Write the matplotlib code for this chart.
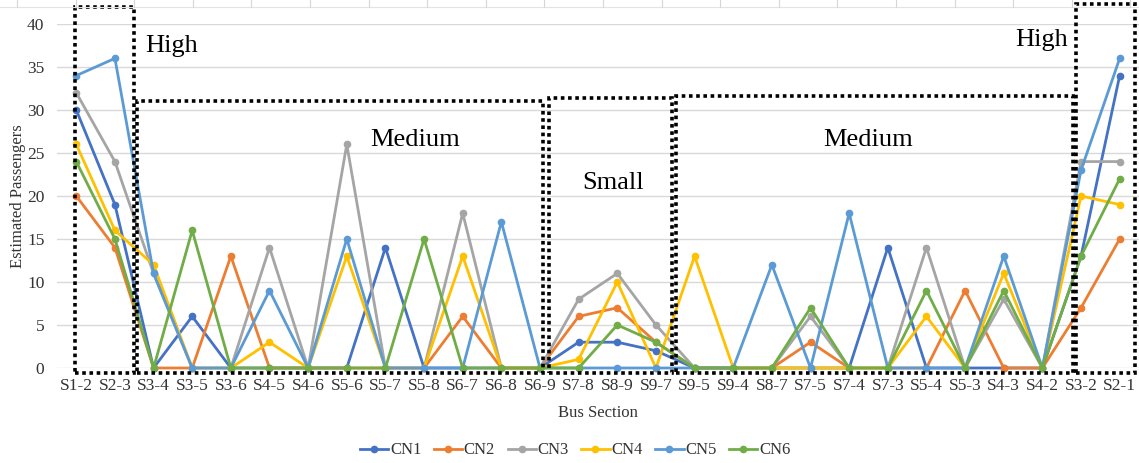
import matplotlib
matplotlib.use("Agg")
import matplotlib.pyplot as plt
from matplotlib.patches import Rectangle
from matplotlib.lines import Line2D

sections = ["S1-2", "S2-3", "S3-4", "S3-5", "S3-6", "S4-5", "S4-6", "S5-6", "S5-7",
            "S5-8", "S6-7", "S6-8", "S6-9", "S7-8", "S8-9", "S9-7", "S9-5", "S9-4",
            "S8-7", "S7-5", "S7-4", "S7-3", "S5-4", "S5-3", "S4-3", "S4-2", "S3-2", "S2-1"]

cn1 = [30, 19, 0, 6, 0, 0, 0, 0, 14, 0, 0, 0, 0, 3, 3, 2, 0, 0, 0, 0, 0, 14, 0, 0, 0, 0, 13, 34]
cn2 = [20, 14, 0, 0, 13, 0, 0, 0, 0, 0, 6, 0, 0, 6, 7, 3, 0, 0, 0, 3, 0, 0, 0, 9, 0, 0, 7, 15]
cn3 = [32, 24, 11, 0, 0, 14, 0, 26, 0, 0, 18, 0, 0, 8, 11, 5, 0, 0, 0, 6, 0, 0, 14, 0, 8, 0, 24, 24]
cn4 = [26, 16, 12, 0, 0, 3, 0, 13, 0, 0, 13, 0, 0, 1, 10, 0, 13, 0, 0, 0, 0, 0, 6, 0, 11, 0, 20, 19]
cn5 = [34, 36, 11, 0, 0, 9, 0, 15, 0, 0, 0, 17, 0, 0, 0, 0, 0, 0, 12, 0, 18, 0, 0, 0, 13, 0, 23, 36]
cn6 = [24, 15, 0, 16, 0, 0, 0, 0, 0, 15, 0, 0, 0, 0, 5, 3, 0, 0, 0, 7, 0, 0, 9, 0, 9, 0, 13, 22]

series_names = ["CN1", "CN2", "CN3", "CN4", "CN5", "CN6"]
series_values = [cn1, cn2, cn3, cn4, cn5, cn6]
colors = ["#4472C4", "#ED7D31", "#A5A5A5", "#FFC000", "#5B9BD5", "#70AD47"]

# Load groups: (label, box left, box right, box top, label x, label y, alignment)
groups = [
    ("High", -0.02, 1.5, 42.0, 1.78, 37.4, "left"),
    ("Medium", 1.58, 12.08, 31.0, 8.77, 26.5, "center"),
    ("Small", 12.23, 15.41, 31.4, 13.9, 21.5, "center"),
    ("Medium", 15.52, 25.78, 31.6, 20.48, 26.5, "center"),
    ("High", 25.88, 27.4, 42.3, 24.98, 38.1, "center"),
]
box_bottom = -0.6

plt.rcParams["font.family"] = ["Liberation Serif", "DejaVu Serif"]

fig = plt.figure(figsize=(11.39, 4.63), dpi=100)

# faint sheet border along the top edge
W, H = 1139.0, 463.0
fig.add_artist(Line2D([0, 1], [1 - 7 / H, 1 - 7 / H], color="#E3E3E3", lw=0.8))
px = 17.0
while px < W:
    fig.add_artist(Line2D([px / W, px / W], [1 - 7 / H, 1.0], color="#D6D6D6", lw=0.8))
    px += 58.6

ax = fig.add_axes([0.05, 0.2052, 0.95, 0.743])

x = list(range(len(sections)))
for name, vals, col in zip(series_names, series_values, colors):
    ax.plot(x, vals, color=col, lw=2.0, marker="o", markersize=4.5, label=name,
            solid_joinstyle="round", clip_on=False, zorder=3)

ax.set_xlim(-0.5, len(sections) - 0.5)
ax.set_ylim(0, 40)
ax.set_yticks(range(0, 41, 5))
ax.set_xticks(x)
ax.set_xticklabels(sections)
ax.tick_params(axis="both", length=0, labelsize=12.5, colors="#333333")
ax.tick_params(axis="x", pad=7)
ax.tick_params(axis="y", pad=9)
ax.grid(axis="y", color="#D9D9D9", lw=1)
ax.set_axisbelow(True)
for s in ax.spines.values():
    s.set_visible(False)

ax.set_xlabel("Bus Section", fontsize=12, color="#333333", labelpad=8)
ax.set_ylabel("Estimated Passengers", fontsize=12, color="#333333", labelpad=1)

for label, x0, x1, top, tx, ty, ha in groups:
    rect = Rectangle((x0, box_bottom), x1 - x0, top - box_bottom, fill=False,
                     edgecolor="black", lw=2.6, linestyle=(0, (1, 1)), clip_on=False, zorder=4)
    ax.add_patch(rect)
    ax.text(tx, ty, label, fontsize=19, ha=ha, va="center", color="black", zorder=5)

fig.legend(loc="center", bbox_to_anchor=(0.505, 0.027), ncol=6, frameon=False,
           fontsize=12, handlelength=1.7, handletextpad=0.1, columnspacing=0.75,
           labelcolor="#333333")

fig.savefig("out.png", dpi=100)
